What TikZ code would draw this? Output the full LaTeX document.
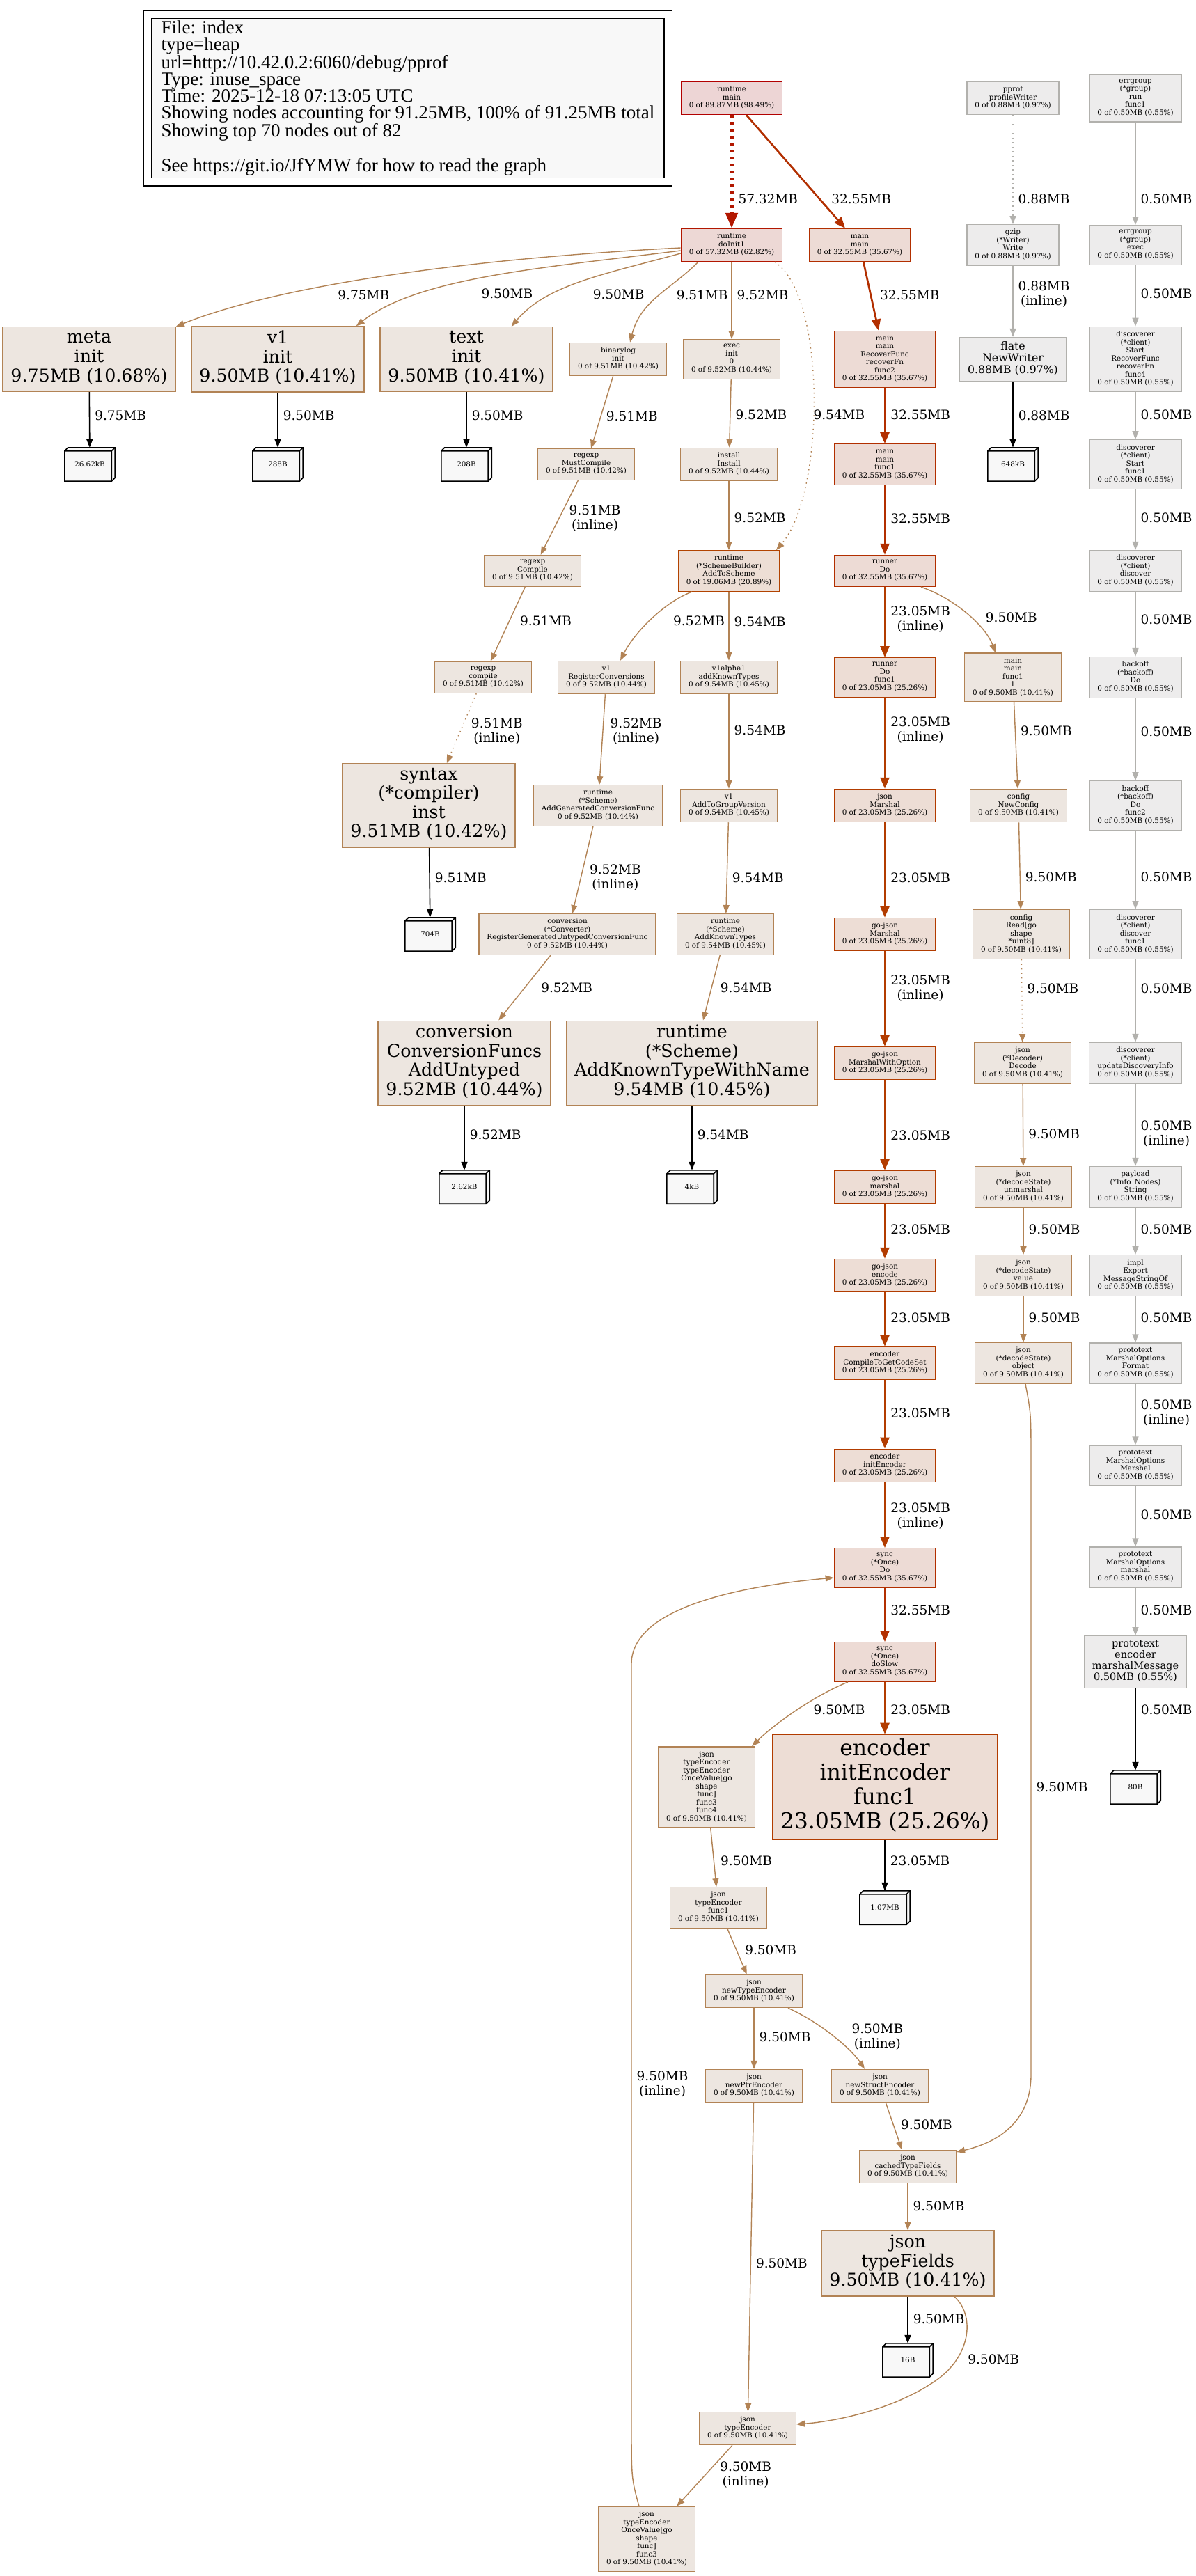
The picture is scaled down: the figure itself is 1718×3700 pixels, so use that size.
\documentclass[tikz,border=0pt]{standalone}
\usepackage{fontspec}
\setmainfont{DejaVu Serif}
\newfontfamily\legendfamily{Liberation Serif}
\usepackage{tikz}
\usetikzlibrary{arrows.meta,backgrounds}
\definecolor{TopLine}{HTML}{B20000}
\definecolor{TopFill}{HTML}{EDD5D5}
\definecolor{InitLine}{HTML}{B21700}
\definecolor{InitFill}{HTML}{EDD8D5}
\definecolor{HotLine}{HTML}{B22F00}
\definecolor{HotFill}{HTML}{EDDBD5}
\definecolor{WarmLine}{HTML}{B23C00}
\definecolor{WarmFill}{HTML}{EDDDD5}
\definecolor{SchemeLine}{HTML}{B24300}
\definecolor{SchemeFill}{HTML}{EDDED5}
\definecolor{TanLine}{HTML}{B28355}
\definecolor{TanFill}{HTML}{EDE6E0}
\definecolor{GrayLine}{HTML}{B2B1AD}
\definecolor{GrayFill}{HTML}{EDECEC}
\definecolor{Leaf}{HTML}{F8F8F8}
\newcommand{\gvsmall}{\fontsize{10.4}{11.5}\selectfont}
\newcommand{\gvlabel}{\fontsize{18.5}{21}\selectfont}
\newcommand{\gvbig}{\fontsize{25.3}{27.6}\selectfont}
\newcommand{\gvhuge}{\fontsize{31.5}{35}\selectfont}
\newcommand{\gvflate}{\fontsize{15.7}{17}\selectfont}
\newcommand{\gvmsg}{\fontsize{14.5}{16}\selectfont}
\newcommand{\gvlegend}{\legendfamily\fontsize{27}{24}\selectfont}

\begin{document}
\begin{tikzpicture}[
  x=1pt, y=1pt,
  fn/.style={draw,line width=1.3pt,font=\gvsmall,align=center,inner xsep=11.5pt,inner ysep=6.5pt,
    execute at begin node=\strut,execute at end node=\strut},
  big/.style={fn,font=\gvbig,inner ysep=6pt},
  huge/.style={fn,font=\gvhuge,inner ysep=6pt},
  c98/.style={fill=TopFill,draw=TopLine},
  c63/.style={fill=InitFill,draw=InitLine},
  c36/.style={fill=HotFill,draw=HotLine},
  c25/.style={fill=WarmFill,draw=WarmLine},
  c21/.style={fill=SchemeFill,draw=SchemeLine},
  c10/.style={fill=TanFill,draw=TanLine},
  c01/.style={fill=GrayFill,draw=GrayLine},
  leaf/.style={font=\gvsmall,minimum width=72pt,minimum height=48pt,inner sep=0pt},
  legendbox/.style={draw,line width=1.3pt,fill=Leaf,font=\gvlegend,align=left,minimum width=736pt,minimum height=228pt},
  ln/.style={draw=TanLine,line width=1.4pt,-{Triangle[length=12pt,width=9pt]}},
  lnhot/.style={draw=HotLine,line width=2.7pt,-{Triangle[length=16pt,width=13pt]}},
  lnwarm/.style={lnhot,draw=WarmLine},
  lntop/.style={draw=InitLine,line width=5pt,dash pattern=on 4pt off 6pt,-{Triangle[length=22pt,width=17pt]}},
  lngray/.style={ln,draw=GrayLine},
  lnleaf/.style={ln,draw=black,line width=1.6pt},
  resid/.style={dash pattern=on 1.5pt off 5pt},
  lbl/.style={font=\gvlabel,align=center,anchor=west,inner sep=0pt,xshift=7pt},
  clbl/.style={font=\gvlabel,align=center,inner sep=0pt}
]
  \path[use as bounding box] (0,0) rectangle (1718,-3700);

  % legend
  \node[legendbox] (legend) at (586,-141) {File: index\\type=heap\\url=http://10.42.0.2:6060/debug/pprof\\Type: inuse\_space\\Time: 2025-12-18 07:13:05 UTC\\Showing nodes accounting for 91.25MB, 100\% of 91.25MB total\\Showing top 70 nodes out of 82\\[24pt]See https://git.io/JfYMW for how to read the graph};
  \draw[line width=1.3pt] ([shift={(-11,11)}]legend.north west) rectangle ([shift={(11,-11)}]legend.south east);

  % nodes
  \node[fn,c98] (rtmain) at (1051,-141) {runtime\\main\\0 of 89.87MB (98.49\%)};
  \node[fn,c01] (pprof) at (1455,-141) {pprof\\profileWriter\\0 of 0.88MB (0.97\%)};
  \node[fn,c01] (errrun) at (1631,-141) {errgroup\\(*group)\\run\\func1\\0 of 0.50MB (0.55\%)};

  \node[fn,c63] (doinit) at (1051,-352) {runtime\\doInit1\\0 of 57.32MB (62.82\%)};
  \node[fn,c36] (mainmain) at (1235,-352) {main\\main\\0 of 32.55MB (35.67\%)};
  \node[fn,c01] (gzip) at (1455,-352) {gzip\\(*Writer)\\Write\\0 of 0.88MB (0.97\%)};
  \node[fn,c01] (errexec) at (1631,-352) {errgroup\\(*group)\\exec\\0 of 0.50MB (0.55\%)};

  \node[big,c10] (meta) at (128,-516) {meta\\init\\9.75MB (10.68\%)};
  \node[big,c10] (v1init) at (399,-516) {v1\\init\\9.50MB (10.41\%)};
  \node[big,c10] (textinit) at (670,-516) {text\\init\\9.50MB (10.41\%)};
  \node[fn,c10] (binlog) at (888,-516) {binarylog\\init\\0 of 9.51MB (10.42\%)};
  \node[fn,c10] (execinit) at (1051,-516) {exec\\init\\0\\0 of 9.52MB (10.44\%)};
  \node[fn,c36] (recover) at (1271,-516) {main\\main\\RecoverFunc\\recoverFn\\func2\\0 of 32.55MB (35.67\%)};
  \node[fn,c01,font=\gvflate,inner ysep=6pt] (flate) at (1455,-516) {flate\\NewWriter\\0.88MB (0.97\%)};
  \node[fn,c01] (start4) at (1631,-516) {discoverer\\(*client)\\Start\\RecoverFunc\\recoverFn\\func4\\0 of 0.50MB (0.55\%)};

  \node[leaf] (leaf26) at (129,-667) {26.62kB};
  \node[leaf] (leaf288) at (399,-667) {288B};
  \node[leaf] (leaf208) at (670,-667) {208B};
  \node[fn,c10] (mustcomp) at (842,-667) {regexp\\MustCompile\\0 of 9.51MB (10.42\%)};
  \node[fn,c10] (install) at (1047,-667) {install\\Install\\0 of 9.52MB (10.44\%)};
  \node[fn,c36] (mainf1) at (1271,-667) {main\\main\\func1\\0 of 32.55MB (35.67\%)};
  \node[leaf] (leaf648) at (1455,-667) {648kB};
  \node[fn,c01] (startf1) at (1631,-667) {discoverer\\(*client)\\Start\\func1\\0 of 0.50MB (0.55\%)};

  \node[fn,c10] (compU) at (765,-820) {regexp\\Compile\\0 of 9.51MB (10.42\%)};
  \node[fn,c21] (addscheme) at (1047,-820) {runtime\\(*SchemeBuilder)\\AddToScheme\\0 of 19.06MB (20.89\%)};
  \node[fn,c36] (runnerdo) at (1271,-820) {runner\\Do\\0 of 32.55MB (35.67\%)};
  \node[fn,c01] (discover) at (1631,-820) {discoverer\\(*client)\\discover\\0 of 0.50MB (0.55\%)};

  \node[fn,c10] (compL) at (694,-973) {regexp\\compile\\0 of 9.51MB (10.42\%)};
  \node[fn,c10] (regconv) at (871,-973) {v1\\RegisterConversions\\0 of 9.52MB (10.44\%)};
  \node[fn,c10] (addknown1) at (1047,-973) {v1alpha1\\addKnownTypes\\0 of 9.54MB (10.45\%)};
  \node[fn,c25] (runnerf1) at (1271,-973) {runner\\Do\\func1\\0 of 23.05MB (25.26\%)};
  \node[fn,c10] (mainf11) at (1455,-973) {main\\main\\func1\\1\\0 of 9.50MB (10.41\%)};
  \node[fn,c01] (backoff) at (1631,-973) {backoff\\(*backoff)\\Do\\0 of 0.50MB (0.55\%)};

  \node[big,c10] (syntax) at (616,-1157) {syntax\\(*compiler)\\inst\\9.51MB (10.42\%)};
  \node[fn,c10] (addgen) at (859,-1157) {runtime\\(*Scheme)\\AddGeneratedConversionFunc\\0 of 9.52MB (10.44\%)};
  \node[fn,c10] (togroup) at (1047,-1157) {v1\\AddToGroupVersion\\0 of 9.54MB (10.45\%)};
  \node[fn,c25] (jsonmarshal) at (1271,-1157) {json\\Marshal\\0 of 23.05MB (25.26\%)};
  \node[fn,c10] (newconfig) at (1463,-1157) {config\\NewConfig\\0 of 9.50MB (10.41\%)};
  \node[fn,c01] (backoff2) at (1631,-1157) {backoff\\(*backoff)\\Do\\func2\\0 of 0.50MB (0.55\%)};

  \node[leaf] (leaf704) at (618,-1342) {704B};
  \node[fn,c10] (reguntyped) at (815,-1342) {conversion\\(*Converter)\\RegisterGeneratedUntypedConversionFunc\\0 of 9.52MB (10.44\%)};
  \node[fn,c10] (addknown) at (1042,-1342) {runtime\\(*Scheme)\\AddKnownTypes\\0 of 9.54MB (10.45\%)};
  \node[fn,c25] (gjmarshal) at (1271,-1342) {go-json\\Marshal\\0 of 23.05MB (25.26\%)};
  \node[fn,c10] (readcfg) at (1467,-1342) {config\\Read[go\\shape\\{}*uint8]\\0 of 9.50MB (10.41\%)};
  \node[fn,c01] (discoverf1) at (1631,-1342) {discoverer\\(*client)\\discover\\func1\\0 of 0.50MB (0.55\%)};

  \node[big,c10] (untyped) at (667,-1527) {conversion\\ConversionFuncs\\AddUntyped\\9.52MB (10.44\%)};
  \node[big,c10] (withname) at (994,-1527) {runtime\\(*Scheme)\\AddKnownTypeWithName\\9.54MB (10.45\%)};
  \node[fn,c25] (gjopt) at (1271,-1527) {go-json\\MarshalWithOption\\0 of 23.05MB (25.26\%)};
  \node[fn,c10] (decode) at (1469,-1527) {json\\(*Decoder)\\Decode\\0 of 9.50MB (10.41\%)};
  \node[fn,c01] (updinfo) at (1631,-1527) {discoverer\\(*client)\\updateDiscoveryInfo\\0 of 0.50MB (0.55\%)};

  \node[leaf] (leaf262) at (667,-1705) {2.62kB};
  \node[leaf] (leaf4k) at (994,-1705) {4kB};
  \node[fn,c25] (gjmarshal2) at (1271,-1705) {go-json\\marshal\\0 of 23.05MB (25.26\%)};
  \node[fn,c10] (unmarshal) at (1470,-1705) {json\\(*decodeState)\\unmarshal\\0 of 9.50MB (10.41\%)};
  \node[fn,c01] (payload) at (1631,-1705) {payload\\(*Info\_Nodes)\\String\\0 of 0.50MB (0.55\%)};

  \node[fn,c25] (gjencode) at (1271,-1832) {go-json\\encode\\0 of 23.05MB (25.26\%)};
  \node[fn,c10] (value) at (1470,-1832) {json\\(*decodeState)\\value\\0 of 9.50MB (10.41\%)};
  \node[fn,c01] (export) at (1631,-1832) {impl\\Export\\MessageStringOf\\0 of 0.50MB (0.55\%)};

  \node[fn,c25] (codeset) at (1271,-1958) {encoder\\CompileToGetCodeSet\\0 of 23.05MB (25.26\%)};
  \node[fn,c10] (object) at (1470,-1958) {json\\(*decodeState)\\object\\0 of 9.50MB (10.41\%)};
  \node[fn,c01] (format) at (1631,-1958) {prototext\\MarshalOptions\\Format\\0 of 0.50MB (0.55\%)};

  \node[fn,c25] (initenc) at (1271,-2105) {encoder\\initEncoder\\0 of 23.05MB (25.26\%)};
  \node[fn,c01] (pmarshal) at (1631,-2105) {prototext\\MarshalOptions\\Marshal\\0 of 0.50MB (0.55\%)};

  \node[fn,c36] (oncedo) at (1271,-2252) {sync\\(*Once)\\Do\\0 of 32.55MB (35.67\%)};
  \node[fn,c01] (pmarshal2) at (1631,-2251) {prototext\\MarshalOptions\\marshal\\0 of 0.50MB (0.55\%)};

  \node[fn,c36] (doslow) at (1271,-2387) {sync\\(*Once)\\doSlow\\0 of 32.55MB (35.67\%)};
  \node[fn,c01,font=\gvmsg,inner ysep=6pt] (marshalmsg) at (1631,-2387) {prototext\\encoder\\marshalMessage\\0.50MB (0.55\%)};

  \node[fn,c10] (tefunc4) at (1015,-2567) {json\\typeEncoder\\typeEncoder\\OnceValue[go\\shape\\func]\\func3\\func4\\0 of 9.50MB (10.41\%)};
  \node[huge,c25] (initf1) at (1271,-2567) {encoder\\initEncoder\\func1\\23.05MB (25.26\%)};
  \node[leaf] (leaf80) at (1631,-2567) {80B};

  \node[fn,c10] (tefunc1) at (1032,-2740) {json\\typeEncoder\\func1\\0 of 9.50MB (10.41\%)};
  \node[leaf] (leaf107) at (1271,-2740) {1.07MB};
  \node[fn,c10] (newte) at (1083,-2860) {json\\newTypeEncoder\\0 of 9.50MB (10.41\%)};
  \node[fn,c10] (newptr) at (1083,-2996) {json\\newPtrEncoder\\0 of 9.50MB (10.41\%)};
  \node[fn,c10] (newstruct) at (1264,-2996) {json\\newStructEncoder\\0 of 9.50MB (10.41\%)};
  \node[fn,c10] (cached) at (1304,-3112) {json\\cachedTypeFields\\0 of 9.50MB (10.41\%)};
  \node[big,c10] (typefields) at (1304,-3251) {json\\typeFields\\9.50MB (10.41\%)};
  \node[leaf] (leaf16) at (1304,-3390) {16B};
  \node[fn,c10] (te) at (1074,-3488) {json\\typeEncoder\\0 of 9.50MB (10.41\%)};
  \node[fn,c10] (tefunc3) at (929,-3647) {json\\typeEncoder\\OnceValue[go\\shape\\func]\\func3\\0 of 9.50MB (10.41\%)};

  % edges: top
  \draw[lntop] (rtmain) -- node[lbl,pos=.74] {57.32MB} (doinit);
  \draw[lnhot] (rtmain) -- node[lbl,pos=.74,xshift=9pt] {32.55MB} (mainmain);
  \draw[ln] ([yshift=-4pt]doinit.west) .. controls +(-300,-15) and +(150,60) .. (meta.north east) node[clbl,pos=.6,xshift=36pt,yshift=-16pt] {9.75MB};
  \draw[ln] ([yshift=-8pt]doinit.west) .. controls +(-200,-25) and +(90,70) .. ([xshift=-12pt]v1init.north east) node[clbl,pos=.5,xshift=25pt,yshift=-25pt] {9.50MB};
  \draw[ln] ([yshift=-12pt]doinit.west) .. controls +(-110,-30) and +(50,60) .. ([xshift=-60pt]textinit.north east) node[clbl,pos=.5,xshift=55pt,yshift=-18pt] {9.50MB};
  \draw[ln] ([xshift=-48pt]doinit.south) .. controls +(-40,-40) and +(15,60) .. ([xshift=17pt]binlog.north) node[clbl,pos=.5,xshift=64pt,yshift=3pt] {9.51MB};
  \draw[ln] (doinit) -- node[lbl,pos=.43] {9.52MB} (execinit);
  \draw[ln,resid] ([xshift=62pt]doinit.south) .. controls +(75,-50) and +(70,80) .. ([xshift=68pt]addscheme.north) node[clbl,pos=.5,xshift=37pt,yshift=-24pt] {9.54MB};
  \draw[lnhot] (mainmain) -- node[lbl,pos=.48,xshift=5pt] {32.55MB} (recover);

  % edges: gray columns
  \draw[lngray,resid] (pprof) -- node[lbl,pos=.77] {0.88MB} (gzip);
  \draw[lngray] (gzip) -- node[lbl,pos=.40] {0.88MB\\(inline)} (flate);
  \draw[lnleaf] (flate) -- node[lbl,pos=.51] {0.88MB} (leaf648);
  \draw[lngray] (errrun) -- node[lbl,pos=.75] {0.50MB} (errexec);
  \draw[lngray] (errexec) -- node[lbl,pos=.47] {0.50MB} (start4);
  \draw[lngray] (start4) -- node[lbl,pos=.48] {0.50MB} (startf1);
  \draw[lngray] (startf1) -- node[lbl,pos=.47] {0.50MB} (discover);
  \draw[lngray] (discover) -- node[lbl,pos=.43] {0.50MB} (backoff);
  \draw[lngray] (backoff) -- node[lbl,pos=.40] {0.50MB} (backoff2);
  \draw[lngray] (backoff2) -- node[lbl,pos=.59] {0.50MB} (discoverf1);
  \draw[lngray] (discoverf1) -- node[lbl,pos=.35] {0.50MB} (updinfo);
  \draw[lngray] (updinfo) -- node[lbl,pos=.61] {0.50MB\\(inline)} (payload);
  \draw[lngray] (payload) -- node[lbl,pos=.46] {0.50MB} (export);
  \draw[lngray] (export) -- node[lbl,pos=.47] {0.50MB} (format);
  \draw[lngray] (format) -- node[lbl,pos=.48] {0.50MB\\(inline)} (pmarshal);
  \draw[lngray] (pmarshal) -- node[lbl,pos=.47] {0.50MB} (pmarshal2);
  \draw[lngray] (pmarshal2) -- node[lbl,pos=.47] {0.50MB} (marshalmsg);
  \draw[lnleaf] (marshalmsg) -- node[lbl,pos=.26] {0.50MB} (leaf80);

  % edges: init side
  \draw[lnleaf] (meta) -- node[lbl,pos=.42] {9.75MB} (leaf26);
  \draw[lnleaf] (v1init) -- node[lbl,pos=.42] {9.50MB} (leaf288);
  \draw[lnleaf] (textinit) -- node[lbl,pos=.42] {9.50MB} (leaf208);
  \draw[ln] (binlog) -- node[lbl,pos=.55] {9.51MB} (mustcomp);
  \draw[ln] (mustcomp) -- node[lbl,pos=.51,xshift=7pt] {9.51MB\\(inline)} (compU);
  \draw[ln] (compU) -- node[lbl,pos=.46,xshift=8pt] {9.51MB} (compL);
  \draw[ln,resid] (compL) -- node[lbl,pos=.54,xshift=8pt] {9.51MB\\(inline)} (syntax);
  \draw[lnleaf] (syntax) -- node[lbl,pos=.43] {9.51MB} (leaf704);
  \draw[ln] (execinit) -- node[lbl,pos=.52] {9.52MB} (install);
  \draw[ln] (install) -- node[lbl,pos=.53] {9.52MB} (addscheme);
  \draw[ln] ([xshift=-53pt]addscheme.south) .. controls +(-40,-15) and +(20,40) .. ([xshift=20pt]regconv.north) node[clbl,pos=.5,xshift=69pt,yshift=-2pt] {9.52MB};
  \draw[ln] (addscheme) -- node[lbl,pos=.43] {9.54MB} (addknown1);
  \draw[ln] (regconv) -- node[lbl,pos=.41,xshift=3pt] {9.52MB\\(inline)} (addgen);
  \draw[ln] (addgen) -- node[lbl,pos=.59,xshift=5pt] {9.52MB\\(inline)} (reguntyped);
  \draw[ln] (reguntyped) -- node[lbl,pos=.50,xshift=16pt] {9.52MB} (untyped);
  \draw[lnleaf] (untyped) -- node[lbl,pos=.45] {9.52MB} (leaf262);
  \draw[ln] (addknown1) -- node[lbl,pos=.38] {9.54MB} (togroup);
  \draw[ln] (togroup) -- node[lbl,pos=.61] {9.54MB} (addknown);
  \draw[ln] (addknown) -- node[lbl,pos=.50,xshift=5pt] {9.54MB} (withname);
  \draw[lnleaf] (withname) -- node[lbl,pos=.45] {9.54MB} (leaf4k);

  % edges: main path
  \draw[lnhot] (recover) -- node[lbl,pos=.48] {32.55MB} (mainf1);
  \draw[lnhot] (mainf1) -- node[lbl,pos=.48] {32.55MB} (runnerdo);
  \draw[lnwarm] (runnerdo) -- node[lbl,pos=.46] {23.05MB\\(inline)} (runnerf1);
  \draw[ln] ([xshift=52pt]runnerdo.south) .. controls +(45,-15) and +(-15,40) .. ([xshift=-25pt]mainf11.north) node[clbl,pos=.5,xshift=65pt,yshift=-6pt] {9.50MB};
  \draw[lnwarm] (runnerf1) -- node[lbl,pos=.36] {23.05MB\\(inline)} (jsonmarshal);
  \draw[lnwarm] (jsonmarshal) -- node[lbl,pos=.58] {23.05MB} (gjmarshal);
  \draw[lnwarm] (gjmarshal) -- node[lbl,pos=.39] {23.05MB\\(inline)} (gjopt);
  \draw[lnwarm] (gjopt) -- node[lbl,pos=.61] {23.05MB} (gjmarshal2);
  \draw[lnwarm] (gjmarshal2) -- node[lbl,pos=.47] {23.05MB} (gjencode);
  \draw[lnwarm] (gjencode) -- node[lbl,pos=.47] {23.05MB} (codeset);
  \draw[lnwarm] (codeset) -- node[lbl,pos=.48] {23.05MB} (initenc);
  \draw[lnwarm] (initenc) -- node[lbl,pos=.51] {23.05MB\\(inline)} (oncedo);
  \draw[lnhot] (oncedo) -- node[lbl,pos=.41] {32.55MB} (doslow);
  \draw[lnwarm] (doslow) -- node[lbl,pos=.53] {23.05MB} (initf1);
  \draw[ln] ([xshift=-53pt]doslow.south) .. controls +(-50,-20) and +(30,30) .. ([xshift=65pt]tefunc4.north) node[clbl,pos=.5,xshift=64pt,yshift=3pt] {9.50MB};
  \draw[lnleaf] (initf1) -- node[lbl,pos=.41] {23.05MB} (leaf107);
  \draw[ln] (tefunc4) -- node[lbl,pos=.56,xshift=2pt] {9.50MB} (tefunc1);
  \draw[ln] (tefunc1) -- node[lbl,pos=.46,xshift=5pt] {9.50MB} (newte);
  \draw[ln] (newte) -- node[lbl,pos=.47] {9.50MB} (newptr);
  \draw[ln] ([xshift=49pt]newte.south) .. controls +(45,-20) and +(-20,30) .. ([xshift=-22pt]newstruct.north) node[clbl,pos=.5,xshift=64pt,yshift=-1pt] {9.50MB\\(inline)};
  \draw[ln] (newstruct) -- node[lbl,pos=.47,xshift=3pt] {9.50MB} (cached);
  \draw[ln] (cached) -- node[lbl,pos=.48] {9.50MB} (typefields);
  \draw[lnleaf] (typefields) -- node[lbl,pos=.48] {9.50MB} (leaf16);
  \draw[ln] ([xshift=67pt]typefields.south) .. controls (1400,-3325) and (1395,-3380) .. (1350,-3415) node[clbl,pos=.6,xshift=42pt,yshift=-22pt] {9.50MB}
    .. controls (1290,-3460) and (1200,-3478) .. ([yshift=6pt]te.east);
  \draw[ln] (newptr) -- node[lbl,pos=.52] {9.50MB} (te);
  \draw[ln] (te) -- node[lbl,pos=.48,xshift=13pt] {9.50MB\\(inline)} (tefunc3);
  \draw[ln] ([xshift=-11pt]tefunc3.north) .. controls (907,-3560) .. (907,-3480) -- (907,-2390) node[lbl,pos=.446] {9.50MB\\(inline)}
    .. controls (907,-2300) and (1100,-2275) .. ([yshift=-14pt]oncedo.west);

  % edges: config path
  \draw[ln] (mainf11) -- node[lbl,pos=.33] {9.50MB} (newconfig);
  \draw[ln] (newconfig) -- node[lbl,pos=.63] {9.50MB} (readcfg);
  \draw[ln,resid] (readcfg) -- node[lbl,pos=.35] {9.50MB} (decode);
  \draw[ln] (decode) -- node[lbl,pos=.61] {9.50MB} (unmarshal);
  \draw[ln] (unmarshal) -- node[lbl,pos=.46] {9.50MB} (value);
  \draw[ln] (value) -- node[lbl,pos=.47] {9.50MB} (object);
  \draw[ln] ([xshift=3pt]object.south) .. controls (1481,-2030) .. (1481,-2100) -- (1481,-2980) node[lbl,pos=.53] {9.50MB}
    .. controls (1481,-3050) and (1430,-3078) .. ([yshift=21pt]cached.east);

  % leaf boxes (3d)
  \begin{pgfonlayer}{background}
    \fill[white] (0,0) rectangle (1718,-3700);
    \foreach \n in {leaf26,leaf288,leaf208,leaf704,leaf262,leaf4k,leaf648,leaf107,leaf16,leaf80} {
      \draw[line width=1.6pt,fill=Leaf] (\n.south west) -- ([yshift=-5pt]\n.north west) -- ([xshift=5pt]\n.north west) -- (\n.north east) -- ([yshift=5pt]\n.south east) -- ([xshift=-5pt]\n.south east) -- cycle;
      \draw[line width=1.6pt] ([yshift=-5pt]\n.north west) -- ([shift={(-5,-5)}]\n.north east) -- ([xshift=-5pt]\n.south east)
        ([shift={(-5,-5)}]\n.north east) -- (\n.north east);
    }
  \end{pgfonlayer}
\end{tikzpicture}
\end{document}
